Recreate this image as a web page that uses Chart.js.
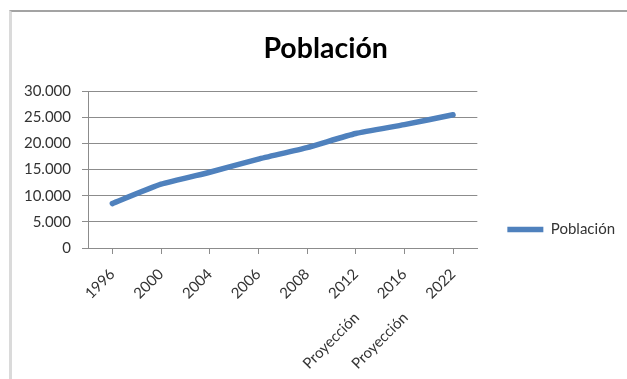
<!DOCTYPE html>
<html>
<head>
<meta charset="utf-8">
<script src="https://cdn.jsdelivr.net/npm/chart.js@4.4.1/dist/chart.umd.min.js"></script>
<style>
html, body { margin: 0; padding: 0; background: #fff; }
#wrap { position: relative; width: 627px; height: 379px; overflow: hidden; }
#frame { position: absolute; left: 9px; top: 10px; right: -10px; bottom: -10px;
         border-top: 2px solid #a3a3a3; border-left: 3px solid #dadada; }
canvas { position: absolute; left: 0; top: 0; }
</style>
</head>
<body>
<div id="wrap">
  <div id="frame"></div>
  <canvas id="chart" width="627" height="379"></canvas>
</div>
<script>
// data
const years = ['1996', '2000', '2004', '2006', '2008', '2012', '2016', '2022'];
const notes = ['', '', '', '', '', 'Proyección', 'Proyección', ''];
const population = [8500, 12200, 14500, 17000, 19200, 21900, 23600, 25500];
const yTicks = [0, 5000, 10000, 15000, 20000, 25000, 30000];

const blue = '#4f81bd';
const gridGray = '#8c8c8c';
const textGray = '#333333';

// thousands with a dot, as in the original
function fmt(v) {
    return String(v).replace(/\B(?=(\d{3})+(?!\d))/g, '.');
}

// second line of the label sits lower and a bit back, like in the sheet
const labels = years.map((y, i) => notes[i] ? [y, '', notes[i] + '\u2003\u2003\u2002'] : y);

new Chart(document.getElementById('chart'), {
    type: 'line',
    data: {
        labels: labels,
        datasets: [{
            label: 'Población',
            data: population,
            borderColor: blue,
            backgroundColor: blue,
            borderWidth: 5.5,
            borderCapStyle: 'round',
            borderJoinStyle: 'round',
            pointRadius: 0,
            tension: 0.15,
            fill: false
        }]
    },
    options: {
        responsive: false,
        animation: false,
        devicePixelRatio: 1,
        layout: {
            padding: { left: 12, right: 2, top: 0, bottom: 0 }
        },
        scales: {
            x: {
                offset: true,
                grid: {
                    display: true,
                    drawOnChartArea: false,
                    drawTicks: true,
                    tickLength: 6,
                    color: gridGray
                },
                border: { color: gridGray },
                ticks: {
                    autoSkip: false,
                    minRotation: 45,
                    maxRotation: 45,
                    padding: 12,
                    color: textGray,
                    font: { family: 'Lato', size: 15, lineHeight: 1.05 }
                },
                afterFit: s => { s.height = 131; }
            },
            y: {
                min: yTicks[0],
                max: yTicks[yTicks.length - 1],
                ticks: {
                    stepSize: yTicks[1] - yTicks[0],
                    callback: v => fmt(v),
                    padding: 11,
                    color: textGray,
                    font: { family: 'Lato', size: 15 }
                },
                grid: {
                    color: gridGray,
                    tickLength: 6
                },
                border: { color: gridGray },
                afterFit: s => { s.width = 76; }
            }
        },
        plugins: {
            title: {
                display: true,
                text: '\u2002Población',
                color: '#000',
                font: { family: 'Lato', size: 28.5, weight: 'bold', lineHeight: 1.2 },
                padding: { top: 32, bottom: 25 }
            },
            legend: {
                position: 'right',
                // empty title only pushes the entry down to where it sits in the original
                title: { display: true, text: ' ', padding: 31, font: { size: 15, lineHeight: 1.2 } },
                labels: {
                    usePointStyle: true,
                    pointStyle: 'line',
                    pointStyleWidth: 36,
                    padding: 30,
                    color: textGray,
                    font: { family: 'Lato', size: 15 }
                }
            },
            tooltip: { enabled: false }
        }
    }
});
</script>
</body>
</html>
